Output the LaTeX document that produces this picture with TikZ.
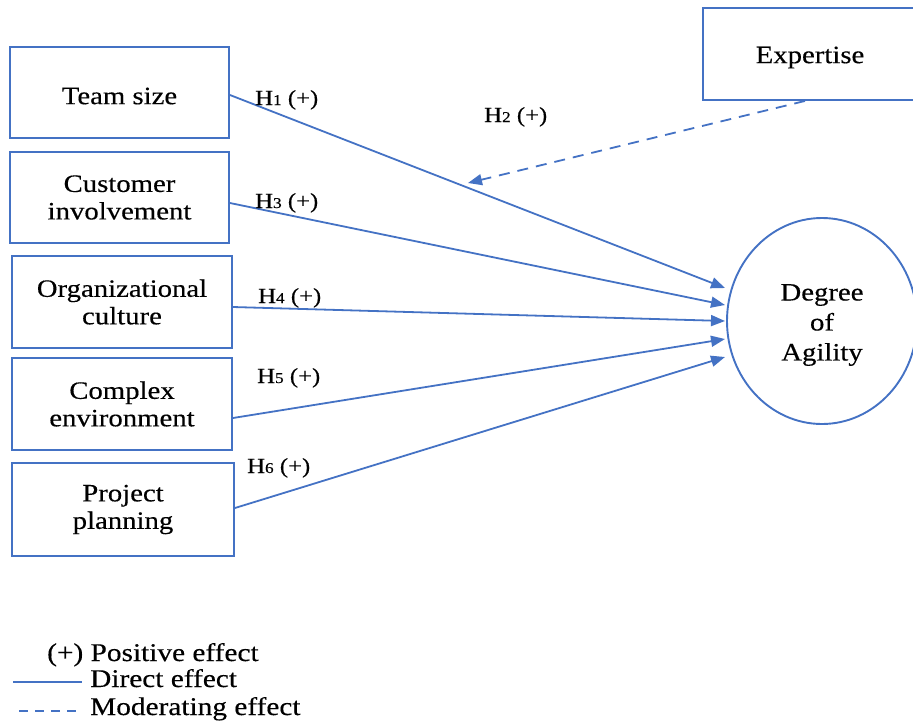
\documentclass[tikz,border=0pt]{standalone}
\usepackage{fontspec}
\setmainfont{Liberation Serif}[FakeStretch=1.15,FakeBold=0.35]
\usetikzlibrary{arrows.meta,shapes.geometric}
\definecolor{modelblue}{RGB}{68,114,196}

% hypothesis label: H, small index, sign
\newcommand\hlab[1]{H{\fontsize{15}{15}\selectfont #1} (+)}

\begin{document}
\begin{tikzpicture}[x=1pt,y=-1pt,
  box/.style={draw=modelblue, line width=1.9pt, align=center,
    font=\fontsize{25}{27.5}\selectfont, inner sep=0pt},
  inlabel/.style={label={[font=\fontsize{25}{27.5}\selectfont, yshift=-3.5pt]center:#1}},
  construct/.style={draw=modelblue, line width=1.9pt, ellipse, align=center,
    font=\fontsize{25}{30}\selectfont, inner sep=0pt,
    minimum width=190pt, minimum height=206pt},
  conn/.style={draw=modelblue, line width=1.8pt},
  direct/.style={conn, -{Triangle[length=14pt,width=11pt]}},
  moderating/.style={conn, dash pattern=on 11pt off 8pt,
    -{Triangle[length=14pt,width=11pt]}},
  lab/.style={font=\fontsize{21.5}{24}\selectfont, anchor=base west, inner sep=0pt},
  leg/.style={font=\fontsize{25.5}{28}\selectfont, anchor=base west, inner sep=0pt}
]
\useasboundingbox (0,0) rectangle (913,724);

% predictor boxes
\node[box, minimum width=219pt, minimum height=91pt, inlabel={Team size}] (ts) at (119.5,92.5) {};
\node[box, minimum width=219pt, minimum height=91pt] (ci) at (119.5,197.5) {Customer\\involvement};
\node[box, minimum width=220pt, minimum height=92pt] (oc) at (122,302) {Organizational\\culture};
\node[box, minimum width=220pt, minimum height=92pt] (ce) at (122,404) {Complex\\environment};
\node[box, minimum width=222pt, minimum height=93pt] (pp) at (123,509.5) {Project\\planning};

% moderator
\node[box, minimum width=214pt, minimum height=92pt, inlabel={Expertise}] (exp) at (810,54) {};

% outcome
\node[construct] (deg) at (822,321) {};
\node[font=\fontsize{25}{30}\selectfont, align=center, inner sep=0pt] (degtxt) at (822,325) {Degree\\of\\Agility};

% arrow end points beside the ellipse
\coordinate (e1) at (725,288);
\coordinate (e2) at (725,305);
\coordinate (e3) at (725,321);
\coordinate (e4) at (725,339);
\coordinate (e5) at (725,357);
\coordinate (m2) at (468,183);

% direct effects
\draw[direct] ([yshift=-2.5pt]ts.east) -- (e1);
\draw[direct] ([yshift=-5.5pt]ci.east) -- (e2);
\draw[direct] ([yshift=-5pt]oc.east) -- (e3);
\draw[direct] ([yshift=-14pt]ce.east) -- (e4);
\draw[direct] ([yshift=1.5pt]pp.east) -- (e5);

% moderating effect
\draw[moderating] ([xshift=-5pt]exp.south) -- (m2);

% hypothesis labels
\node[lab] (h1) at (255,105) {\hlab{1}};
\node[lab] (h2) at (484,122) {\hlab{2}};
\node[lab] (h3) at (255,208) {\hlab{3}};
\node[lab] (h4) at (258,303) {\hlab{4}};
\node[lab] (h5) at (257,383) {\hlab{5}};
\node[lab] (h6) at (247,473) {\hlab{6}};

% legend
\node[leg] (lpos) at (47,661) {(+) Positive effect};
\node[leg] (ldir) at (90,687) {Direct effect};
\node[leg] (lmod) at (90,715) {Moderating effect};
\coordinate (d1) at (13,682);
\coordinate (d2) at (82,682);
\coordinate (d3) at (19,711);
\coordinate (d4) at (82,711);
\draw[conn, line width=1.4pt] (d1) -- (d2);
\draw[conn, line width=1.4pt, dash pattern=on 9pt off 7pt] (d3) -- (d4);
\end{tikzpicture}
\end{document}
